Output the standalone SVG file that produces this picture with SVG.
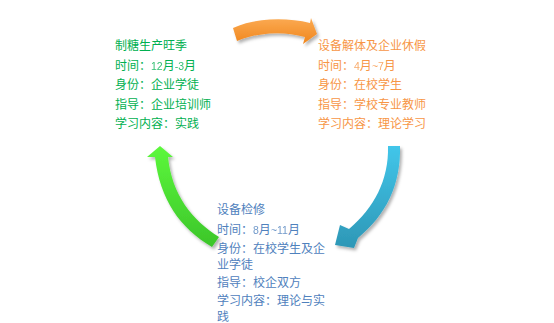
<svg xmlns="http://www.w3.org/2000/svg" width="554" height="323" viewBox="0 0 554 323">
<defs>
<style>
text{font-family:"Noto Sans CJK SC","Noto Sans",sans-serif;font-size:12px}
.g{fill:#00B050}
.o{fill:#F79646}
.b{fill:#4F81BD}
.d{font-family:"Liberation Sans",Arial,sans-serif;font-size:10.5px;opacity:.8}
</style>
<linearGradient id="gO" x1="0" y1="0" x2="0" y2="1"><stop offset="0" stop-color="#FBAA52"/><stop offset="1" stop-color="#F0861C"/></linearGradient>
<linearGradient id="gB" x1="0" y1="0" x2="0" y2="1"><stop offset="0" stop-color="#42C6EA"/><stop offset="1" stop-color="#2D97B6"/></linearGradient>
<linearGradient id="gG" x1="0" y1="0" x2="0" y2="1"><stop offset="0" stop-color="#5CF83C"/><stop offset="1" stop-color="#3CC52A"/></linearGradient>
<filter id="sh" x="-20%" y="-20%" width="150%" height="150%"><feDropShadow dx="2" dy="2.5" stdDeviation="1.6" flood-color="#000" flood-opacity="0.3"/></filter>
</defs>
<rect width="554" height="323" fill="#fff"/>
<g id="connectors">
<path filter="url(#sh)" fill="url(#gO)" d="M233,28 C255,18 285,17 310,23 L311,18 L317,34 L303,44 L305,37 C283,31 260,32 237,41 Z"/>
<path filter="url(#sh)" fill="url(#gB)" d="M400,146 C401,185 386,215 358,238 L354,248 L335,245 L340,225 L349,229 C374,208 389,180 388,146 Z"/>
<path filter="url(#sh)" fill="url(#gG)" d="M219,237 C192,220 172,195 168,157 L173,157 L160,146 L147,157 L155,157 C160,200 180,228 212,247 Z"/>
</g>
<g id="node-harvest" class="g">
<text x="115" y="50">制糖生产旺季</text>
<text x="115" y="70">时间：<tspan class="d">12</tspan>月<tspan class="d">-3</tspan>月</text>
<text x="115" y="89">身份：企业学徒</text>
<text x="115" y="109">指导：企业培训师</text>
<text x="115" y="128">学习内容：实践</text>
</g>
<g id="node-disassembly" class="o">
<text x="318" y="50">设备解体及企业休假</text>
<text x="318" y="70">时间：<tspan class="d">4</tspan>月<tspan class="d">~7</tspan>月</text>
<text x="318" y="89">身份：在校学生</text>
<text x="318" y="109">指导：学校专业教师</text>
<text x="318" y="128">学习内容：理论学习</text>
</g>
<g id="node-overhaul" class="b">
<text x="217" y="214">设备检修</text>
<text x="217" y="234">时间：<tspan class="d">8</tspan>月<tspan class="d">~11</tspan>月</text>
<text x="217" y="253">身份：在校学生及企</text>
<text x="217" y="269">业学徒</text>
<text x="217" y="287">指导：校企双方</text>
<text x="217" y="305">学习内容：理论与实</text>
<text x="217" y="320.5">践</text>
</g>
</svg>
